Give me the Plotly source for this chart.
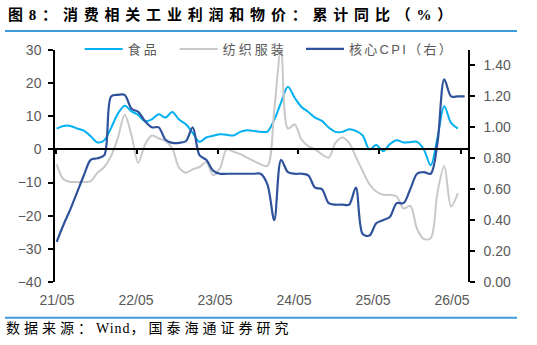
import plotly.graph_objects as go

# ---------------- data (monthly, 2021-05 onward) ----------------
food = [6.3, 7.1, 7.1, 6.3, 5.7, 4.0, 2.1, 2.8, 6.5, 10.8,
        13.2, 11.5, 10.4, 8.5, 9.1, 10.6, 9.6, 11.3, 9.0, 7.6,
        5.0, 2.3, 3.6, 4.1, 4.6, 4.4, 4.2, 5.3, 5.8, 5.6,
        5.3, 5.4, 9.0, 14.2, 18.9, 15.6, 12.8, 11.3, 9.6, 8.6,
        6.6, 5.3, 5.3, 6.1, 5.6, 4.2, 0.0, 1.3, -0.5, 1.6,
        2.8, 2.1, 2.2, 2.3, 0.0, -4.8, 3.5, 13.0, 8.0, 6.3]

textile = [-4.5, -9.0, -9.8, -9.8, -9.8, -9.6, -7.0, -5.3, -2.0, 3.5,
           10.5, 4.3, -4.0, 1.5, 4.2, 3.3, 2.5, 0.3, -5.5, -7.0,
           -6.0, -5.3, -3.8, -7.8, -5.7, 0.0, -0.7, -1.4, -2.5, -3.5,
           -4.5, -5.0, 12.0, 30.5, 6.3, 7.5, 3.0, 1.0, 0.0, -1.5,
           -2.5, 2.0, 3.6, 2.0, -2.3, -6.5, -10.5, -12.7, -13.7, -13.7,
           -14.2, -17.8, -17.0, -24.0, -27.0, -26.8, -13.0, -5.0, -17.2, -13.2]

core_cpi = [0.26, 0.37, 0.47, 0.58, 0.69, 0.79, 0.80, 0.82, 1.20, 1.21,
            1.21, 1.12, 1.10, 1.04, 1.00, 1.00, 0.92, 0.90, 0.90, 0.91,
            1.00, 0.82, 0.79, 0.72, 0.70, 0.70, 0.70, 0.70, 0.70, 0.70,
            0.70, 0.63, 0.40, 0.79, 0.71, 0.70, 0.70, 0.69, 0.61, 0.60,
            0.51, 0.50, 0.50, 0.50, 0.61, 0.31, 0.30, 0.38, 0.40, 0.42,
            0.51, 0.51, 0.60, 0.70, 0.71, 0.70, 0.90, 1.31, 1.20, 1.20,
            1.20]

tick_labels = ["21/05", "22/05", "23/05", "24/05", "25/05", "26/05"]
label_pos = [0.04, 11.66, 23.28, 34.9, 46.51, 58.13]
tick_pos = [-0.15, 11.76, 23.67, 35.53, 47.44, 59.41]
left_ticks = [-40, -30, -20, -10, 0, 10, 20, 30]
right_ticks = [0.0, 0.2, 0.4, 0.6, 0.8, 1.0, 1.2, 1.4]

names = ["食品", "纺织服装", "核心CPI（右）"]
title_text = "图8：消费相关工业利润和物价：累计同比（%）"
source_parts = ["数据来源：", "Wind", "，国泰海通证券研究"]

# ---------------- layout geometry ----------------
W, H = 537, 345
L, R, T, B = 55, 69, 50, 63
PW = W - L - R
PH = H - T - B
XR = [-0.25, 60.49]


def fx(px):
    return (px - L) / PW


def fy(py):
    return (H - B - py) / PH


def spaced(s, px):
    return "<span style='letter-spacing:%spx'>%s</span>" % (px, s)


GRAY = "#595959"
TICKFONT = dict(family="Liberation Sans, Arial, sans-serif", size=14, color=GRAY)
LEGFONT = dict(size=13, color=GRAY, family="Liberation Sans, Noto Sans CJK SC, sans-serif")

fig = go.Figure()
fig.add_trace(go.Scatter(
    x=list(range(len(food))), y=food, name=spaced(names[0], 3), mode="lines",
    line=dict(color="#00b0f0", width=2, shape="spline", smoothing=0.9),
    legend="legend", hoverinfo="skip"))
fig.add_trace(go.Scatter(
    x=list(range(len(textile))), y=textile, name=spaced(names[1], 3), mode="lines",
    line=dict(color="#c8c8c8", width=2, shape="spline", smoothing=0.9),
    legend="legend2", hoverinfo="skip"))
fig.add_trace(go.Scatter(
    x=list(range(len(core_cpi))), y=core_cpi, name=spaced(names[2], 2.3), mode="lines",
    line=dict(color="#2f529c", width=2.2, shape="spline", smoothing=0.9),
    yaxis="y2", legend="legend3", hoverinfo="skip"))
# carrier for the zero-crossing category axis
fig.add_trace(go.Scatter(x=[None], y=[None], xaxis="x2", yaxis="y",
                         showlegend=False, hoverinfo="skip"))


def leg(px):
    return dict(orientation="h", x=fx(px - 7), y=fy(49), xanchor="left", yanchor="middle",
                bgcolor="rgba(0,0,0,0)", font=LEGFONT, itemwidth=38)


fig.update_layout(
    width=W, height=H,
    margin=dict(l=L, r=R, t=T, b=B, pad=0),
    paper_bgcolor="white", plot_bgcolor="white",
    font=dict(family="Noto Sans CJK SC, sans-serif", color=GRAY),
    xaxis=dict(range=XR, tickvals=label_pos, ticktext=tick_labels,
               showline=False, ticks="", showgrid=False, zeroline=False,
               tickfont=TICKFONT, ticklabelstandoff=8),
    xaxis2=dict(range=XR, overlaying="x", anchor="free", position=40 / 70,
                showline=True, linecolor="black", linewidth=1.5,
                ticks="outside", ticklen=4, tickwidth=1.5, tickcolor="black",
                tickvals=tick_pos, showticklabels=False,
                showgrid=False, zeroline=False),
    yaxis=dict(range=[-40, 30], tickvals=left_ticks, ticks="outside", ticklen=5,
               tickwidth=1.5, tickcolor="black", showline=True, linecolor="black",
               linewidth=1.5, showgrid=False, zeroline=False, tickfont=TICKFONT,
               ticklabelstandoff=4),
    yaxis2=dict(range=[0, 1.5], tickvals=right_ticks, tickformat=".2f",
                overlaying="y", side="right", anchor="x",
                ticks="outside", ticklen=5, tickwidth=1.5, tickcolor="black",
                showline=True, linecolor="black", linewidth=1.5,
                showgrid=False, zeroline=False, tickfont=TICKFONT,
                ticklabelstandoff=6),
    legend=leg(86.7),
    legend2=leg(181.7),
    legend3=leg(308),
    showlegend=True,
)

fig.add_annotation(xref="paper", yref="paper", x=fx(6), y=fy(14),
                   xanchor="left", yanchor="middle", showarrow=False,
                   text="<b>" + spaced(title_text, 5.8) + "</b>",
                   font=dict(family="Liberation Serif, Noto Sans CJK SC, serif",
                             size=15, color="black"))
fig.add_annotation(xref="paper", yref="paper", x=fx(4), y=fy(328.5),
                   xanchor="left", yanchor="middle", showarrow=False,
                   text=spaced(source_parts[0], 4) + spaced(source_parts[1], 1)
                   + spaced(source_parts[2], 4),
                   font=dict(family="Liberation Serif, Noto Sans CJK SC, serif",
                             size=14, color="black"))
for yy in (31, 317.7):
    fig.add_shape(type="line", xref="paper", yref="paper",
                  x0=fx(5), x1=fx(517), y0=fy(yy), y1=fy(yy),
                  line=dict(color="#3e9bd9", width=2))

fig.write_html("out.html")
